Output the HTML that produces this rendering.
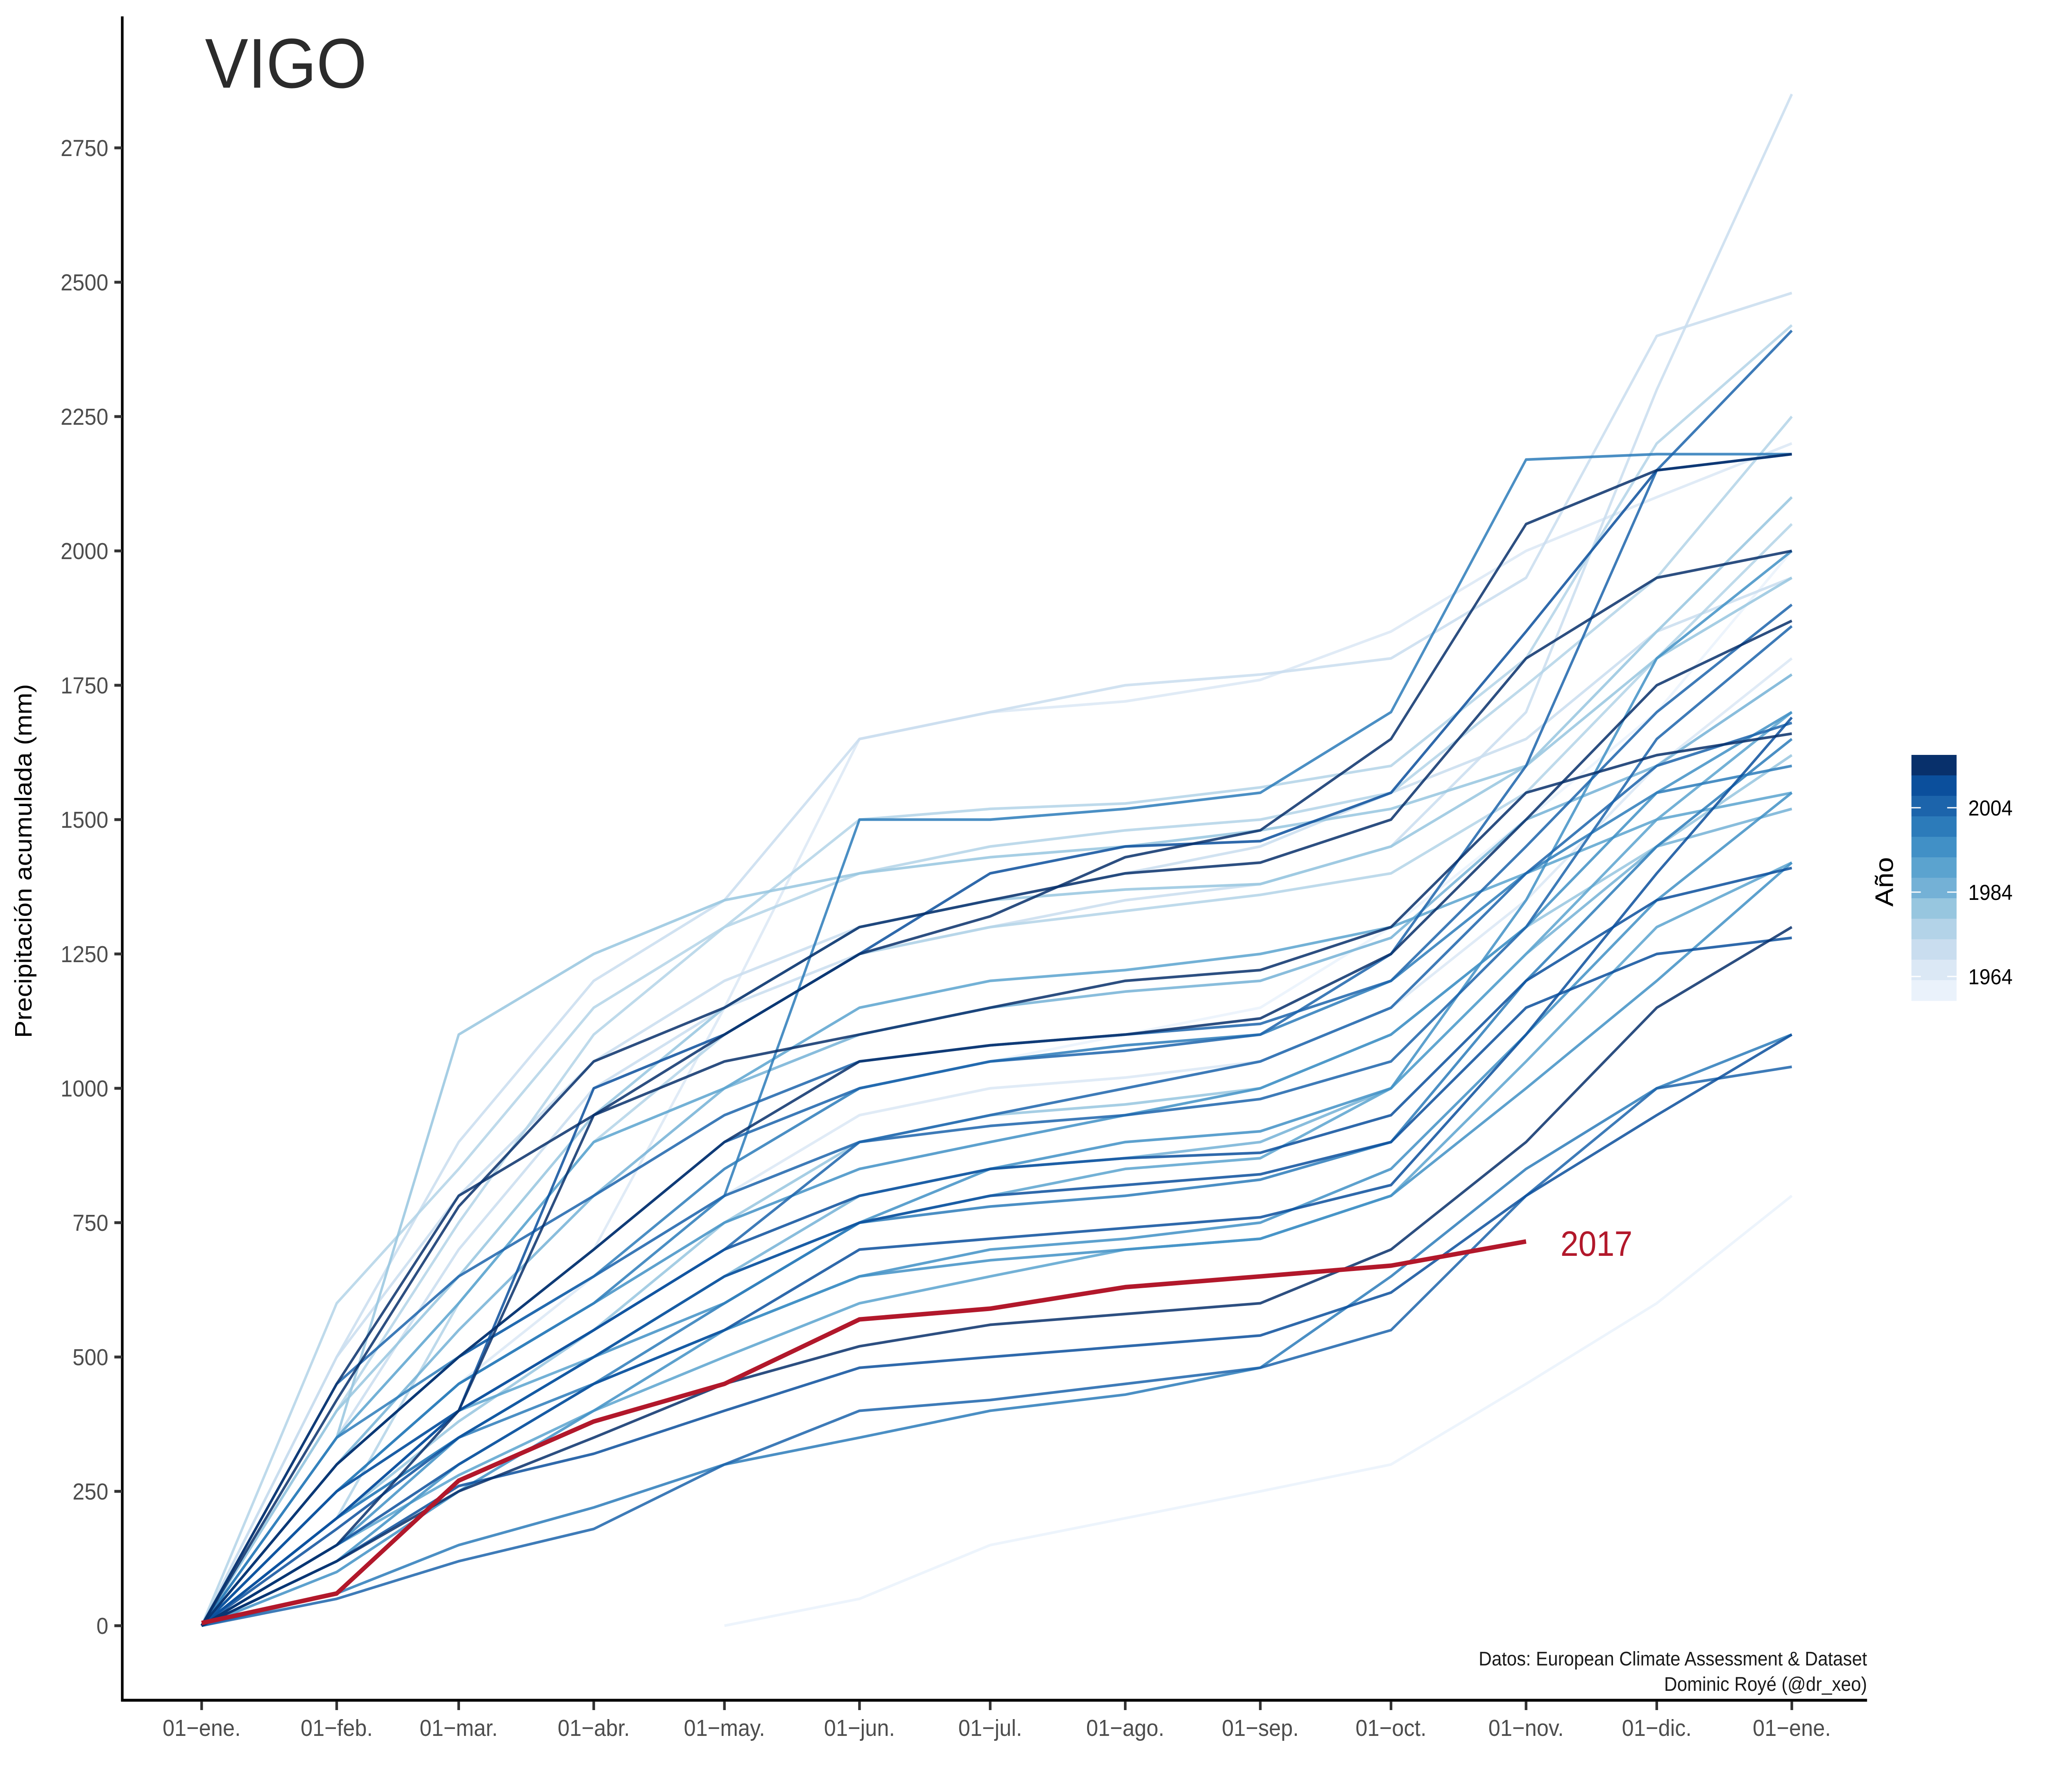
<!DOCTYPE html>
<html><head><meta charset="utf-8"><style>
html,body{margin:0;padding:0;background:#fff;width:100%;height:100%;overflow:hidden;}
svg{display:block;width:100vw;height:100vh;font-family:"Liberation Sans",Arial,sans-serif;}
</style></head><body>
<svg id="chart" viewBox="0 0 5444 4375" preserveAspectRatio="none" xmlns="http://www.w3.org/2000/svg">
<rect x="0" y="0" width="5444" height="4375" fill="#fff"/>
<text x="545" y="214" font-size="172" fill="#2b2b2b">VIGO</text>
<g id="lines"></g>
<g id="yaxis"></g>
<g id="xaxis"></g>
<text transform="translate(84,2102) rotate(-90)" text-anchor="middle" font-size="64" fill="#000">Precipitación acumulada (mm)</text>
<text x="4148" y="3066" font-size="86" fill="#b2182b">2017</text>
<text x="4963" y="4066" text-anchor="end" font-size="48" fill="#1a1a1a">Datos: European Climate Assessment &amp; Dataset</text>
<text x="4963" y="4128" text-anchor="end" font-size="48" fill="#1a1a1a">Dominic Royé (@dr_xeo)</text>
<g id="legend"></g>
</svg>
<script>
const monthDays = [0,31,59,90,120,151,181,212,243,273,304,334,365];
const monthLabels = ["01−ene.","01−feb.","01−mar.","01−abr.","01−may.","01−jun.","01−jul.","01−ago.","01−sep.","01−oct.","01−nov.","01−dic.","01−ene."];
const yTicks = [0,250,500,750,1000,1250,1500,1750,2000,2250,2500,2750];
const legendYears = [2004,1984,1964];
const palette = ["#eaf2fb","#dbe8f5","#c9ddef","#b3d3e8","#97c6df","#74b1d6","#5ba3cf","#4190c6","#2c7bba","#1c64ab","#0b4f9c","#08306b"];
const seriesShade = [2,2,3,9,8,10,11,1,4,7,9,11,6,10,8,5,7,11,9,8,10,6,4,3,2,1,0,0,7,9,11,8,5,6,10,3,4,7,9,10,11];
const s01=[0,350,700,1000,1150,1250,1300,1350,1380,1450,1700,2300,2850];
const s02=[0,500,900,1200,1350,1650,1700,1750,1770,1800,1950,2400,2480];
const s03=[0,400,750,1100,1300,1500,1520,1530,1560,1600,1800,2200,2420];
const s04=[0,300,500,700,900,1000,1050,1070,1100,1250,1600,2150,2410];
const s05=[0,250,450,600,800,1500,1500,1520,1550,1700,2170,2180,2180];
const s06=[0,200,400,1000,1100,1250,1400,1450,1460,1550,1850,2150,2180];
const s07=[0,450,800,950,1100,1250,1320,1430,1480,1650,2050,2150,2180];
const s08=[0,300,500,700,1150,1650,1700,1720,1760,1850,2000,2100,2200];
const s09=[0,350,1100,1250,1350,1400,1430,1450,1480,1520,1600,1800,1950];
const s10=[0,150,350,500,600,750,850,900,920,1000,1350,1800,2000];
const s11=[0,200,400,550,700,900,930,950,980,1050,1300,1650,1860];
const s12=[0,300,500,700,900,1050,1080,1100,1130,1250,1500,1750,1870];
const s13=[0,250,400,500,650,750,800,850,870,1000,1250,1500,1700];
const s14=[0,150,300,450,550,700,720,740,760,820,1100,1400,1690];
const s15=[0,200,350,450,600,750,780,800,830,900,1200,1450,1650];
const s16=[0,300,550,800,1000,1100,1150,1180,1200,1280,1500,1600,1770];
const s17=[0,100,250,400,550,650,680,700,720,800,1000,1200,1420];
const s18=[0,120,250,350,450,520,560,580,600,700,900,1150,1300];
const s19=[0,50,120,180,300,400,420,450,480,550,800,1000,1040];
const s20=[0,60,150,220,300,350,400,430,480,650,850,1000,1100];
const s21=[0,180,350,500,650,750,800,820,840,900,1150,1250,1280];
const s22=[0,350,600,900,1000,1150,1200,1220,1250,1300,1400,1500,1550];
const s23=[0,400,650,950,1150,1300,1350,1370,1380,1450,1600,1850,2100];
const s24=[0,200,600,900,1100,1250,1300,1330,1360,1400,1550,1800,2050];
const s25=[0,500,800,1050,1200,1300,1350,1400,1450,1550,1650,1850,1950];
const s26=[0,250,450,650,800,950,1000,1020,1050,1150,1350,1600,1800];
const s27=[0,300,500,700,900,1000,1050,1100,1150,1300,1500,1700,2000];
const s28=[null,null,null,null,0,50,150,200,250,300,450,600,800];
const s29=[0,250,450,600,750,850,900,950,1000,1100,1300,1550,1700];
const s30=[0,300,500,650,800,900,950,1000,1050,1150,1400,1600,1680];
const s31=[0,150,400,950,1050,1100,1150,1200,1220,1300,1550,1620,1660];
const s32=[0,350,500,650,850,1000,1050,1080,1100,1200,1400,1550,1600];
const s33=[0,200,350,500,650,800,850,870,900,1000,1250,1450,1520];
const s34=[0,150,280,400,500,600,650,700,720,800,1050,1300,1420];
const s35=[0,250,400,550,700,800,850,870,880,950,1200,1350,1410];
const s36=[0,600,850,1150,1300,1400,1450,1480,1500,1550,1750,1950,2250];
const s37=[0,200,380,550,750,900,950,970,1000,1100,1300,1450,1620];
const s38=[0,120,300,450,550,650,700,720,750,850,1100,1350,1550];
const s39=[0,450,650,800,950,1050,1080,1100,1120,1200,1450,1700,1900];
const s40=[0,120,260,320,400,480,500,520,540,620,800,950,1100];
const s41=[0,420,780,1050,1150,1300,1350,1400,1420,1500,1800,1950,2000];
const series2017=[5,60,270,380,450,570,590,630,650,670,715];
const allSeries=[s01,s02,s03,s04,s05,s06,s07,s08,s09,s10,s11,s12,s13,s14,s15,s16,s17,s18,s19,s20,s21,s22,s23,s24,s25,s26,s27,s28,s29,s30,s31,s32,s33,s34,s35,s36,s37,s38,s39,s40,s41];

const NS="http://www.w3.org/2000/svg";
const X0=536, XPD=(4763-536)/365;
const Y0=3969, YPM=(3969-361)/2750;
function xs(d){return X0+d*XPD;}
function ys(v){return Y0-v*YPM;}
function mk(tag,attrs,parent){const e=document.createElementNS(NS,tag);for(const k in attrs)e.setAttribute(k,attrs[k]);parent.appendChild(e);return e;}
function pathFor(vals){
  let d="",started=false;
  vals.forEach((v,i)=>{ if(v===null)return; const x=xs(monthDays[i]).toFixed(1), y=ys(v).toFixed(1);
    d+=(started?"L":"M")+x+","+y; started=true;});
  return d;
}
const linesG=document.getElementById('lines');
const order=allSeries.map((s,i)=>i).sort((a,b)=>seriesShade[a]-seriesShade[b]);
order.forEach(i=>{
  const p=mk('path',{d:pathFor(allSeries[i]),fill:'none',stroke:palette[seriesShade[i]],'stroke-width':6.5,'stroke-opacity':0.85,'stroke-linejoin':'round'},linesG);
  
  
});
const red=mk('path',{d:pathFor(series2017),fill:'none',stroke:'#b2182b','stroke-width':11,'stroke-linejoin':'round'},linesG);



const ya=document.getElementById('yaxis');
const yl=mk('line',{x1:325,y1:40,x2:325,y2:4154,stroke:'#000','stroke-width':7},ya);


yTicks.forEach(v=>{
  const t=mk('line',{x1:304,x2:325,y1:ys(v),y2:ys(v),stroke:'#333','stroke-width':7},ya);
  
  
  const l=mk('text',{x:288,y:ys(v)+20,'text-anchor':'end','font-size':57,fill:'#4d4d4d'},ya);
  l.textContent=v;
  
  
});
const xa=document.getElementById('xaxis');
const xl=mk('line',{x1:322,y1:4151,x2:4963,y2:4151,stroke:'#000','stroke-width':7},xa);


monthDays.forEach((d,i)=>{
  const t=mk('line',{x1:xs(d),x2:xs(d),y1:4154,y2:4175,stroke:'#333','stroke-width':7},xa);
  
  
  const l=mk('text',{x:xs(d),y:4238,'text-anchor':'middle','font-size':57,fill:'#4d4d4d'},xa);
  l.textContent=monthLabels[i];
  
  
});
const lg=document.getElementById('legend');
const LX=5081,LW=120,LTOP=1843,BH=50;
for(let b=0;b<12;b++){
  const r=mk('rect',{x:LX,y:LTOP+b*BH,width:LW,height:BH+0.5,fill:palette[11-b]},lg);
  
  
}
function yearY(yr){return 1972+(2004-yr)*10.3;}
legendYears.forEach(yr=>{
  const y=yearY(yr);
  const t1=mk('line',{x1:LX,x2:LX+25,y1:y,y2:y,stroke:'#fff','stroke-width':3},lg);
  
  
  const t2=mk('line',{x1:LX+LW-25,x2:LX+LW,y1:y,y2:y,stroke:'#fff','stroke-width':3},lg);
  
  
  const l=mk('text',{x:5232,y:y+19,'font-size':53,fill:'#000'},lg);
  l.textContent=yr;
  
  
});
const lt=mk('text',{transform:'translate(5032,2153) rotate(-90)','text-anchor':'middle','font-size':68,fill:'#000'},lg);
lt.textContent='Año';


</script>
</body></html>
